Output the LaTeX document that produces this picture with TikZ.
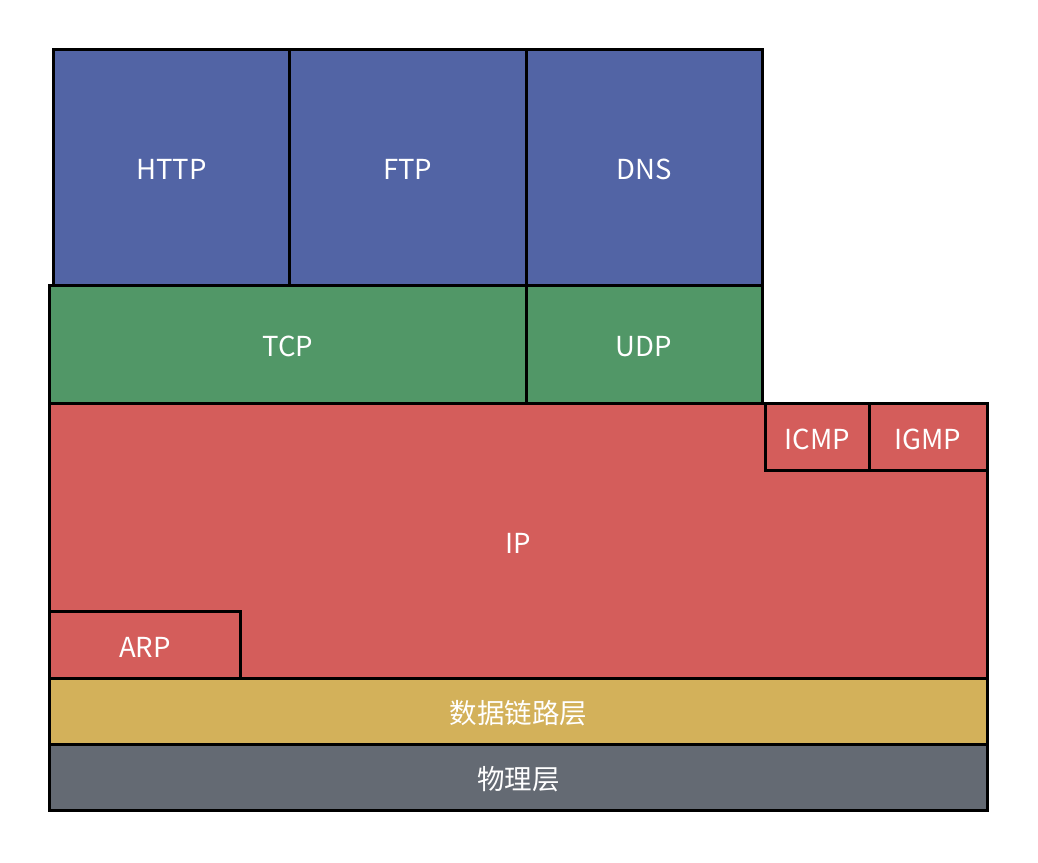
\documentclass[tikz,border=0pt]{standalone}
\usepackage{fontspec}
\setmainfont{Noto Sans CJK SC}
\usetikzlibrary{positioning}
\definecolor{appblue}{HTML}{5264A5}
\definecolor{tpgreen}{HTML}{519767}
\definecolor{netred}{HTML}{D45D5B}
\definecolor{linkyellow}{HTML}{D3B15A}
\definecolor{phygray}{HTML}{646A73}

\begin{document}
\begin{tikzpicture}[x=1pt,y=-1pt,
  layer/.style={draw=black, line width=3pt, text=white, inner sep=0pt,
    outer sep=0pt, anchor=north west, text height=25pt, text depth=0pt,
    font=\fontsize{27.5}{30}\selectfont}]
\useasboundingbox (0,0) rectangle (1038,862);
  % application layer
  \node[layer, fill=appblue, minimum width=236.5pt, minimum height=236pt] (http) at (53,49) {HTTP};
  \node[layer, fill=appblue, minimum width=236.5pt, minimum height=236pt, anchor=west, right=0pt of http] (ftp) {FTP};
  \node[layer, fill=appblue, minimum width=236pt, minimum height=236pt, anchor=west, right=0pt of ftp] (dns) {DNS};
  % transport layer
  \node[layer, fill=tpgreen, minimum width=476.5pt, minimum height=118pt] (tcp) at (49.5,285) {TCP};
  \node[layer, fill=tpgreen, minimum width=236pt, minimum height=118pt, anchor=west, right=0pt of tcp] (udp) {UDP};
  % network layer
  \node[layer, fill=netred, minimum width=937.5pt, minimum height=275pt] (ip) at (49.5,403) {IP};
  \node[layer, fill=netred, minimum width=103.5pt, minimum height=67pt] (icmp) at (765.5,403) {ICMP};
  \node[layer, fill=netred, minimum width=118pt, minimum height=67pt, anchor=west, right=0pt of icmp] (igmp) {IGMP};
  \node[layer, fill=netred, minimum width=191pt, minimum height=66.5pt] (arp) at (49.5,611.5) {ARP};
  % link and physical layer
  \node[layer, fill=linkyellow, minimum width=937.5pt, minimum height=66pt] (link) at (49.5,678) {数据链路层};
  \node[layer, fill=phygray, minimum width=937.5pt, minimum height=66.5pt] (phy) at (49.5,744) {物理层};
\end{tikzpicture}
\end{document}
